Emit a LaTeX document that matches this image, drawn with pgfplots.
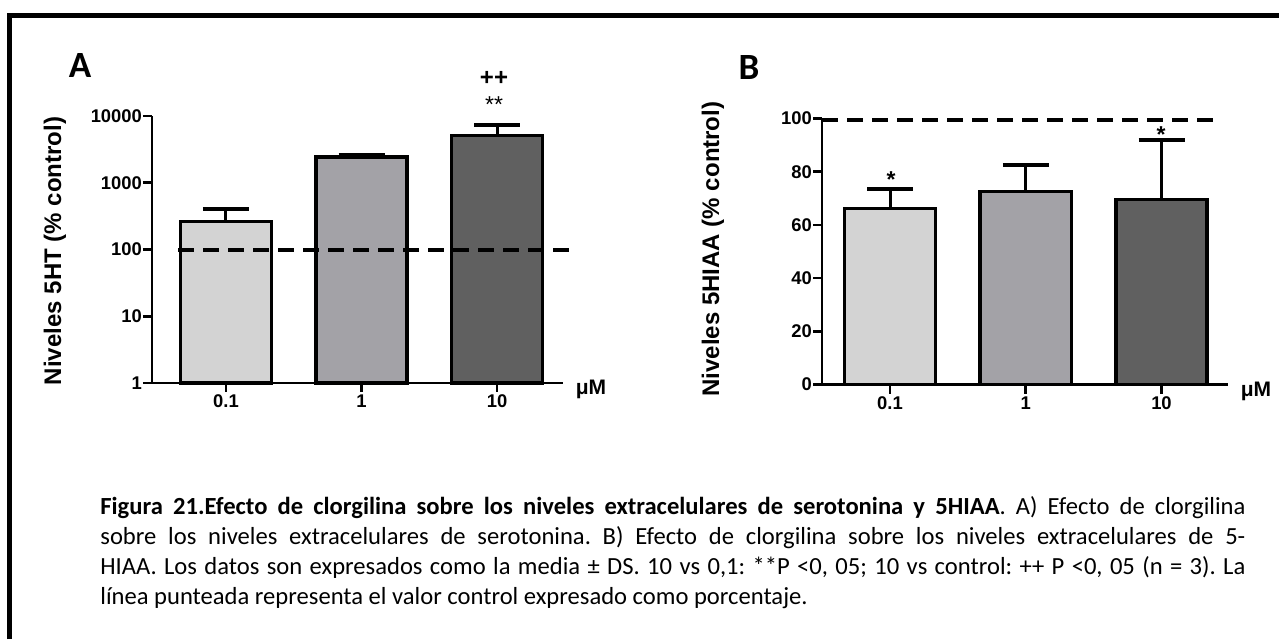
\documentclass[border=0pt]{standalone}
\usepackage{fontspec}
\setmainfont{Carlito}
\newfontfamily\arial{Liberation Sans}
\usepackage{pgfplots}
\pgfplotsset{compat=1.18}
\definecolor{cA}{HTML}{D3D3D3}
\definecolor{cB}{HTML}{A3A2A7}
\definecolor{cC}{HTML}{606060}
\pgfplotsset{
  panel/.style={
    scale only axis, anchor=south west,
    axis x line*=bottom, axis y line*=left,
    axis line style={line width=1.3pt,-},
    ybar, bar width=0.672,
    xtick={0,1,2}, xticklabels={0.1,1,10},
    tick align=outside, major tick length=4.5pt,
    every tick/.style={black, line width=1.3pt},
    tick label style={font=\arial\bfseries\fontsize{9.2}{10}\selectfont},
    yticklabel style={xshift=3pt},
    xticklabel style={anchor=base, yshift=-8pt},
    /pgf/number format/assume math mode=true,
    clip=false,
    every axis plot/.append style={draw=black, line width=1.75pt, bar shift=0pt},
    error bars/y dir=plus, error bars/y explicit,
    error bars/error bar style={line width=1.5pt, black},
    error bars/error mark options={rotate=90, mark size=11.5pt, line width=2pt, black},
  }
}
\begin{document}
\begin{tikzpicture}
\useasboundingbox (0,0) rectangle (639.5pt,319.5pt);
\fill[white] (0,0) rectangle (639.5pt,319.5pt);
\begin{scope}[x=0.5pt,y=0.5pt]
\draw[line width=2.5pt, line join=miter] (9.5,0) -- (9.5,623.5) -- (1285,623.5);
\node[font=\bfseries\fontsize{18.5}{20}\selectfont] at (80,573) {A};
\node[font=\bfseries\fontsize{18.5}{20}\selectfont] at (749,571) {B};
\node[anchor=base, inner sep=0, font=\arial\bfseries\fontsize{12}{14}\selectfont] at (494,553) {++};
\node[anchor=base, inner sep=0, font=\arial\fontsize{11.5}{14}\selectfont] at (494,527) {**};
\node[anchor=base, inner sep=0, font=\arial\bfseries\fontsize{11.5}{14}\selectfont] at (891,452) {*};
\node[anchor=base, inner sep=0, font=\arial\bfseries\fontsize{11.5}{14}\selectfont] at (1161,497) {*};
\node[anchor=base, inner sep=0, font=\arial\bfseries\fontsize{10.5}{12}\selectfont] at (591,245) {μM};
\node[anchor=base, inner sep=0, font=\arial\bfseries\fontsize{10.5}{12}\selectfont] at (1256,243) {μM};
\node[rotate=90, inner sep=0, font=\arial\bfseries\fontsize{12}{14}\selectfont] at (55,388) {Niveles 5HT (\% control)};
\node[rotate=90, inner sep=0, font=\arial\bfseries\fontsize{12}{14}\selectfont] at (713,390) {Niveles 5HIAA (\% control)};
\node[anchor=base west, inner sep=0] at (100,125) {\parbox[t]{572.5pt}{\fontsize{12.3}{15}\selectfont\frenchspacing
\textbf{Figura 21.Efecto de clorgilina sobre los niveles extracelulares de serotonina y 5HIAA}. A) Efecto de clorgilina\linebreak
sobre los niveles extracelulares de serotonina. B) Efecto de clorgilina sobre los niveles extracelulares de 5-\linebreak
HIAA. Los datos son expresados como la media ± DS. 10 vs 0,1: **P <0, 05; 10 vs control: ++ P <0, 05 (n = 3). La\linebreak
línea punteada representa el valor control expresado como porcentaje.}};
\end{scope}

\begin{axis}[panel, at={(76pt,128pt)},
  width=205.5pt, height=133.5pt,
  xmin=-0.546, xmax=2.487,
  ymode=log, ymin=1, ymax=10000,
  ytick={1,10,100,1000,10000}, yticklabels={1,10,100,1000,10000},
  minor ytick={}, yminorticks=false]
\addplot[fill=cA] coordinates {(0,263) +- (0,141)};
\addplot[fill=cB] coordinates {(1,2450) +- (0,150)};
\addplot[fill=cC] coordinates {(2,5100) +- (0,2300)};
\draw[line width=2pt, dash pattern=on 8pt off 4.5pt] (axis cs:-0.354,100) -- (axis cs:2.546,100);
\end{axis}

\begin{axis}[panel, at={(411pt,127.25pt)},
  width=203pt, height=133pt,
  xmin=-0.501, xmax=2.49,
  ymin=0, ymax=100,
  ytick={0,20,40,60,80,100}]
\addplot[fill=cA] coordinates {(0,66.1) +- (0,7.4)};
\addplot[fill=cB] coordinates {(1,72.5) +- (0,10)};
\addplot[fill=cC] coordinates {(2,69.5) +- (0,22.5)};
\draw[line width=2pt, dash pattern=on 8pt off 4.5pt] (axis cs:-0.501,99.6) -- (axis cs:2.388,99.6);
\end{axis}
\end{tikzpicture}
\end{document}
